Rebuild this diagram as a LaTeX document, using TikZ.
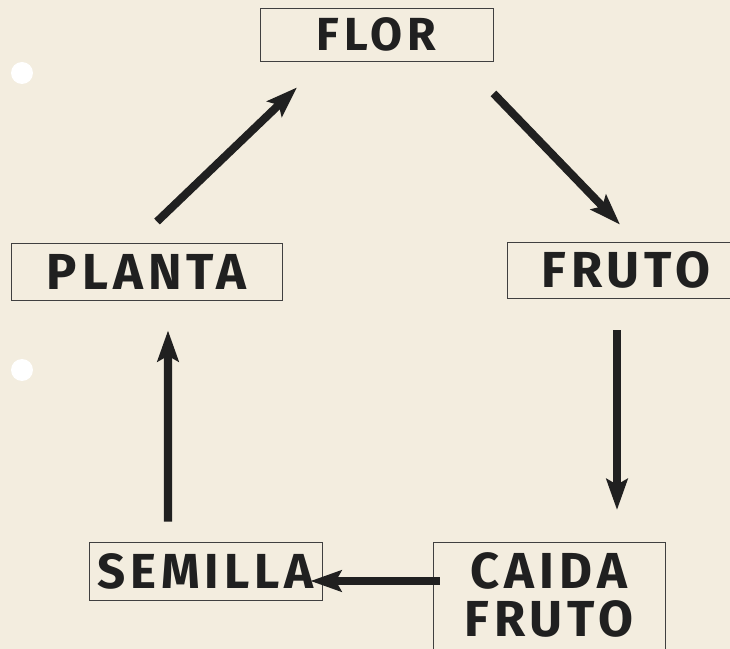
\documentclass[tikz,border=0pt]{standalone}
\usepackage{fontspec}
\usepackage{tikz}
\usetikzlibrary{calc,arrows.meta}
\newfontfamily\cartel{Fira Sans}[LetterSpace=10]
\definecolor{papel}{RGB}{243,237,223}
\definecolor{tinta}{RGB}{32,32,32}

\begin{document}
\begin{tikzpicture}[x=0.025cm, y=-0.025cm,
	caja/.style={draw=black!75, line width=0.6pt, inner sep=0pt, text=tinta, align=center},
	flecha/.style={draw=tinta, line width=5.7pt, -{Stealth[length=22pt, width=15pt, inset=4pt]}}]
		%%%%% START %%%%%
		\fill[papel] (0, 0) rectangle (730, 649);
		\clip (0, 0) rectangle (730, 649);
		
		\fill[white] (22, 73) circle (11);
		\fill[white] (22, 370) circle (11);
		
		\node[caja, minimum width=5.825cm, minimum height=1.325cm, font=\cartel\bfseries\fontsize{33}{35}\selectfont] (flor) at (376.5, 34.5) {FLOR};
		\node[caja, minimum width=6.775cm, minimum height=1.425cm, font=\cartel\bfseries\fontsize{36}{38}\selectfont] (planta) at (146.5, 271.5) {PLANTA};
		\node[caja, minimum width=5.95cm, minimum height=1.4cm, font=\cartel\bfseries\fontsize{36}{38}\selectfont] (fruto) at (626, 270) {FRUTO};
		\node[caja, minimum width=5.825cm, minimum height=1.45cm, font=\cartel\bfseries\fontsize{35}{37}\selectfont] (semilla) at (205.5, 571) {SEMILLA};
		\node[caja, anchor=north, minimum width=5.8cm, minimum height=2.8cm, text depth=5pt, font=\cartel\bfseries\fontsize{36}{34}\selectfont] (caida) at (549, 542) {CAIDA\\FRUTO};
		
		\draw[flecha] ($(planta.north)+(10.5, -21)$) -- ($(flor.south)+(-79.5, 26)$);
		\draw[flecha] ($(flor.south east)+(0, 32)$) -- ($(fruto.north)+(-6, -17)$);
		\draw[flecha] ($(fruto.south)+(-9, 32)$) -- ($(caida.north)+(68, -32)$);
		\draw[flecha] ($(caida.north west)+(7, 39)$) -- ($(semilla.east)+(-12, 10)$);
		\draw[flecha] ($(semilla.north)+(-37.5, -20)$) -- ($(planta.south)+(21.5, 30)$);
		%%%%% END %%%%%
\end{tikzpicture}
\end{document}
